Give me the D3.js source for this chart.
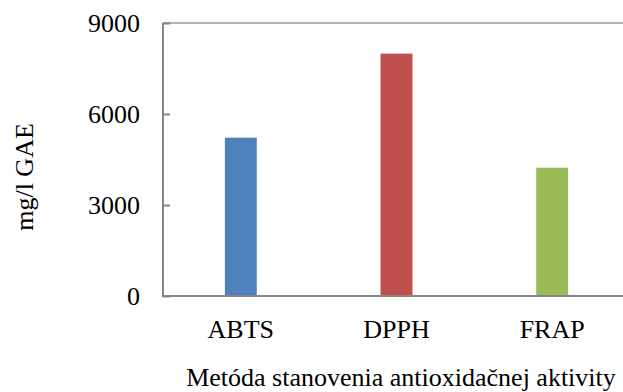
<!DOCTYPE html>
<html>
<head>
<meta charset="utf-8">
<script src="https://cdn.jsdelivr.net/npm/d3@7"></script>
<style>
  html, body { margin: 0; padding: 0; background: #fff; }
  svg { display: block; font-family: "Liberation Serif", "Times New Roman", serif; }
</style>
</head>
<body>
<svg id="chart" width="623" height="392"></svg>
<script>
// Antioxidant activity by method (mg/l GAE)
const categories = ["ABTS", "DPPH", "FRAP"];
const values = [5220, 7990, 4230];
const colors = ["#4f81bd", "#c0504d", "#9bbb59"];
const yTicks = [0, 3000, 6000, 9000];

const svg = d3.select("#chart");
const margin = { left: 163, top: 23, right: -7, bottom: 96 };
const width = 623, height = 392;

const x = d3.scaleBand()
  .domain(categories)
  .range([margin.left, width - margin.right])
  .paddingInner(0.795)
  .paddingOuter(0.3975);

const y = d3.scaleLinear()
  .domain([0, 9000])
  .range([height - margin.bottom, margin.top]);

const axisColor = "#868686";
const fontSize = 26;

// top border line at the maximum
svg.append("line")
  .attr("x1", margin.left).attr("x2", width)
  .attr("y1", y(9000)).attr("y2", y(9000))
  .attr("stroke", "#9a9a9a").attr("stroke-width", 1.5);

// bars
svg.selectAll("rect.bar")
  .data(categories)
  .join("rect")
  .attr("class", "bar")
  .attr("x", d => x(d))
  .attr("width", x.bandwidth())
  .attr("y", (d, i) => y(values[i]))
  .attr("height", (d, i) => y(0) - y(values[i]))
  .attr("fill", (d, i) => colors[i]);

// y axis with inside ticks
const yAxis = svg.append("g")
  .attr("transform", `translate(${margin.left},0)`)
  .call(d3.axisRight(y).tickValues(yTicks).tickSize(7).tickFormat(""));
yAxis.select(".domain").remove();
yAxis.selectAll(".tick line").attr("stroke", axisColor).attr("stroke-width", 2);
svg.append("line")
  .attr("x1", margin.left).attr("x2", margin.left)
  .attr("y1", y(9000)).attr("y2", y(0))
  .attr("stroke", axisColor).attr("stroke-width", 2);

// y tick labels
svg.selectAll("text.ytick")
  .data(yTicks)
  .join("text")
  .attr("class", "ytick")
  .attr("x", 140)
  .attr("y", d => y(d))
  .attr("dy", "0.35em")
  .attr("text-anchor", "end")
  .attr("font-size", fontSize)
  .attr("fill", "#000")
  .text(d => d);

// x axis baseline
svg.append("line")
  .attr("x1", margin.left - 1).attr("x2", width)
  .attr("y1", y(0)).attr("y2", y(0))
  .attr("stroke", axisColor).attr("stroke-width", 2);

// category labels
svg.selectAll("text.xcat")
  .data(categories)
  .join("text")
  .attr("class", "xcat")
  .attr("x", d => x(d) + x.bandwidth() / 2)
  .attr("y", 338)
  .attr("text-anchor", "middle")
  .attr("font-size", fontSize)
  .attr("fill", "#000")
  .text(d => d);

// axis titles
svg.append("text")
  .attr("x", 401)
  .attr("y", 386)
  .attr("text-anchor", "middle")
  .attr("font-size", fontSize)
  .attr("fill", "#000")
  .text("Metóda stanovenia antioxidačnej aktivity");

svg.append("text")
  .attr("transform", "translate(33,177) rotate(-90)")
  .attr("text-anchor", "middle")
  .attr("font-size", fontSize)
  .attr("fill", "#000")
  .text("mg/l GAE");
</script>
</body>
</html>
